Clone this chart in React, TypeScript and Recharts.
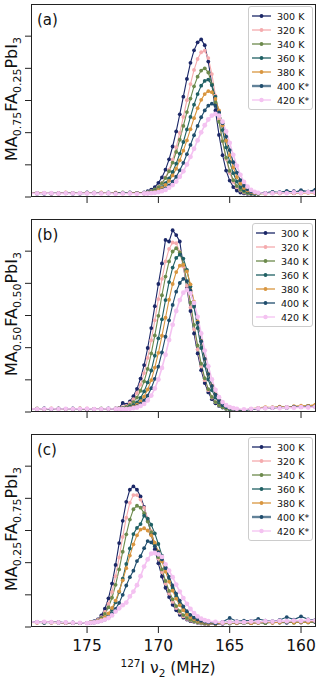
import { LineChart, Line, XAxis, YAxis, Legend } from "recharts"

// x grids (MHz) for each panel
const freqA = [179, 178.5, 178, 177.5, 177, 176.5, 176, 175.5, 175, 174.5, 174, 173.5, 173, 172.5, 172, 171.5, 171, 170.75, 170.5, 170.25, 170, 169.75, 169.5, 169.25, 169, 168.75, 168.5, 168.25, 168, 167.75, 167.5, 167.25, 167, 166.75, 166.5, 166.25, 166, 165.75, 165.5, 165.25, 165, 164.75, 164.5, 164.25, 164, 163.75, 163.5, 163.25, 163, 162.5, 162, 161.5, 161, 160.5, 160, 159.5, 159]
const freqB = [179, 178.5, 178, 177.5, 177, 176.5, 176, 175.5, 175, 174.5, 174, 173.5, 173, 172.75, 172.5, 172.25, 172, 171.75, 171.5, 171.25, 171, 170.75, 170.5, 170.25, 170, 169.75, 169.5, 169.25, 169, 168.75, 168.5, 168.25, 168, 167.75, 167.5, 167.25, 167, 166.75, 166.5, 166.25, 166, 165.75, 165.5, 165.25, 165, 164.75, 164.5, 164, 163.5, 163, 162.5, 162, 161.5, 161, 160.5, 160, 159.5, 159]
const freqC = [179, 178.5, 178, 177.5, 177, 176.5, 176, 175.5, 175, 174.75, 174.5, 174.25, 174, 173.75, 173.5, 173.25, 173, 172.75, 172.5, 172.25, 172, 171.75, 171.5, 171.25, 171, 170.75, 170.5, 170.25, 170, 169.75, 169.5, 169.25, 169, 168.75, 168.5, 168.25, 168, 167.75, 167.5, 167.25, 167, 166.75, 166.5, 166, 165.5, 165, 164.5, 164, 163.5, 163, 162.5, 162, 161.5, 161, 160.5, 160, 159.5, 159]

// (a) MA0.75FA0.25PbI3
const a300 = [1.3, 1.1, 1.2, 1.0, 1.2, 1.3, 1.1, 1.2, 1.4, 1.2, 1.3, 1.1, 1.3, 1.2, 1.4, 1.3, 1.4, 1.8, 2.3, 3.1, 4.4, 6.1, 8.5, 11.7, 15.7, 20.4, 25.7, 31.2, 36.7, 41.7, 45.6, 48.1, 49, 47.2, 42.1, 34.9, 26.9, 19.3, 13, 8.2, 5.1, 3.1, 2.0, 1.4, 1.1, 1.0, 0.9, 1.0, 1.1, 1.3, 1.2, 1.5, 1.4, 1.8, 1.5, 1.7, 2.0]
const a320 = [1.2, 1.3, 1.1, 1.2, 1.0, 1.2, 1.3, 1.1, 1.2, 1.3, 1.1, 1.2, 1.4, 1.1, 1.3, 1.2, 1.2, 1.4, 1.8, 2.3, 3.1, 4.4, 6.1, 8.5, 11.6, 15.5, 19.9, 24.9, 30.1, 35.1, 39.5, 42.9, 45, 45.5, 43.2, 38.2, 31.5, 24.2, 17.4, 11.8, 7.5, 4.7, 3, 2, 1.4, 1.1, 1.0, 1.1, 1.2, 1.0, 1.3, 1.2, 1.4, 1.1, 1.5, 1.3, 1.4]
const a340 = [1.1, 1.2, 1.3, 1.1, 1.2, 1.1, 1.3, 1.2, 1.1, 1.4, 1.2, 1.3, 1.2, 1.4, 1.3, 1.2, 1.3, 1.5, 1.8, 2.4, 3.1, 4.3, 5.9, 8, 10.7, 14, 17.8, 22.1, 26.4, 30.6, 34.4, 37.4, 39.3, 40, 38.7, 35, 29.5, 23.4, 17.4, 12.2, 8.1, 5.2, 3.4, 2.2, 1.6, 1.2, 1.0, 1.1, 0.9, 1.2, 1.1, 1.3, 1.5, 1.2, 1.4, 1.6, 1.3]
const a360 = [1.2, 1.0, 1.1, 1.3, 1.1, 1.2, 1.0, 1.3, 1.2, 1.1, 1.3, 1.4, 1.1, 1.2, 1.3, 1.1, 1.1, 1.3, 1.5, 1.8, 2.3, 3.1, 4.3, 5.8, 7.8, 10.4, 13.5, 17.1, 21, 24.9, 28.7, 32, 34.6, 36.1, 36.5, 34.8, 31.2, 26.3, 20.8, 15.4, 10.9, 7.4, 4.8, 3.1, 2.1, 1.6, 1.2, 1.0, 1.1, 1.3, 1.5, 1.2, 1.6, 1.4, 1.9, 1.5, 1.8]
const a380 = [1.3, 1.2, 1.3, 1.1, 1.2, 1.4, 1.2, 1.1, 1.3, 1.2, 1.4, 1.2, 1.3, 1.1, 1.2, 1.3, 1.1, 1.3, 1.4, 1.7, 2.2, 2.8, 3.8, 5, 6.7, 8.8, 11.4, 14.4, 17.6, 21.1, 24.5, 27.6, 30.2, 32, 32.9, 32.6, 30.5, 26.9, 22.3, 17.5, 13, 9.2, 6.2, 4.2, 2.8, 2, 1.5, 1.2, 1.1, 1.0, 1.2, 1.1, 1.3, 1.2, 1.1, 1.3, 1.2]
const a400 = [1.1, 1.2, 1.0, 1.2, 1.1, 1.3, 1.2, 1.0, 1.1, 1.3, 1.2, 1.1, 1.2, 1.3, 1.1, 1.2, 1.1, 1.1, 1.3, 1.4, 1.7, 2.1, 2.7, 3.6, 4.8, 6.3, 8.3, 10.6, 13.3, 16.2, 19.2, 22.1, 24.8, 26.9, 28.4, 29, 28.4, 26.3, 22.9, 18.8, 14.6, 10.8, 7.6, 5.2, 3.5, 2.4, 1.7, 1.4, 1.1, 1.3, 1.6, 1.4, 1.9, 1.5, 2.1, 1.7, 2.3]
const a420 = [1.2, 1.1, 1.2, 1.2, 1.1, 1.2, 1.1, 1.2, 1.1, 1.2, 1.1, 1.2, 1.0, 1.1, 1.1, 1.0, 1.1, 1.1, 1.2, 1.3, 1.5, 1.8, 2.2, 2.9, 3.7, 4.8, 6.3, 8, 10.1, 12.5, 15, 17.6, 20.1, 22.3, 24.1, 25.3, 25.8, 25.3, 23.4, 20.4, 16.8, 13.1, 9.7, 6.9, 4.7, 3.2, 2.2, 1.6, 1.3, 1.1, 1.2, 1.3, 1.2, 1.4, 1.3, 1.5, 1.4]

// (b) MA0.50FA0.50PbI3
const b300 = [1.0, 0.9, 1.1, 0.8, 1.0, 0.9, 1.1, 1.0, 0.8, 1.0, 0.9, 1.1, 1.1, 1.3, 2.8, 2.3, 3.3, 4.9, 7.2, 10.4, 14.6, 19.9, 26.1, 32.9, 39.8, 46.2, 53.5, 53, 56.5, 55, 53, 45.4, 38.6, 31.4, 24.4, 18.2, 13, 9, 6.1, 4, 2.7, 1.9, 1.4, 1.0, 0.7, 0.5, 0.5, 0.6, 0.9, 1.1, 1.3, 1.2, 1.5, 1.4, 1.6, 1.5, 1.9, 1.8]
const b320 = [0.9, 1.0, 0.8, 1.0, 1.1, 0.9, 1.0, 0.9, 1.1, 0.9, 1.0, 0.9, 1.1, 1.2, 1.5, 1.9, 2.8, 4.0, 5.9, 8.5, 12.1, 16.8, 22.3, 28.5, 35.1, 41.4, 46.8, 50.7, 52.7, 52.5, 49.8, 45.2, 39.2, 32.5, 25.7, 19.5, 14.2, 9.9, 6.8, 4.5, 3.1, 2.1, 1.6, 1.1, 0.7, 0.5, 0.5, 0.5, 0.8, 1.0, 1.2, 1.4, 1.3, 1.5, 1.4, 1.7, 1.6, 1.8]
const b340 = [1.0, 1.1, 0.9, 1.0, 0.8, 1.0, 0.9, 1.1, 1.0, 0.9, 1.1, 1.0, 1.0, 1.1, 1.3, 1.6, 2.2, 3.1, 4.5, 6.6, 9.5, 13.4, 18.2, 23.8, 29.9, 36.3, 42.1, 46.8, 49.9, 50.9, 49.6, 46, 40.6, 34, 27.1, 20.7, 15, 10.5, 7.1, 4.7, 3.1, 2.1, 1.5, 1.0, 0.7, 0.5, 0.5, 0.6, 0.9, 1.2, 1.1, 1.4, 1.6, 1.3, 1.7, 1.5, 1.8, 2.0]
const b360 = [0.9, 1.0, 1.1, 0.9, 1.0, 1.0, 0.8, 1.0, 0.9, 1.0, 0.9, 1.0, 0.9, 1.0, 1.1, 1.3, 1.6, 2.1, 3.0, 4.4, 6.4, 9.2, 12.9, 17.5, 22.9, 28.8, 34.8, 40.4, 44.9, 47.9, 48.9, 47.7, 44.2, 39, 32.7, 26.1, 19.9, 14.4, 10.1, 6.8, 4.5, 3.0, 2.1, 1.5, 1.0, 0.7, 0.5, 0.5, 0.8, 1.1, 1.3, 1.2, 1.4, 1.6, 1.5, 1.7, 1.9, 1.6]
const b380 = [1.1, 1.0, 0.9, 1.1, 1.0, 0.9, 1.0, 1.1, 0.9, 1.0, 1.0, 0.9, 0.9, 0.9, 1.0, 1.1, 1.3, 1.7, 2.3, 3.3, 4.8, 7.0, 9.9, 13.8, 18.4, 23.7, 29.3, 34.9, 39.8, 43.5, 45.5, 45.7, 43.7, 39.7, 34.3, 28.2, 22.1, 16.5, 11.8, 8.2, 5.5, 3.6, 2.5, 1.8, 1.4, 1.0, 0.7, 0.6, 1.0, 1.3, 1.5, 1.4, 1.7, 1.5, 1.8, 2.0, 1.9, 2.3]
const b400 = [0.9, 1.0, 1.0, 0.9, 1.1, 1.0, 0.9, 1.0, 1.0, 0.9, 1.0, 0.9, 0.9, 0.9, 0.9, 1.0, 1.2, 1.4, 1.8, 2.5, 3.6, 5.1, 7.4, 10.3, 14.1, 18.5, 23.4, 28.5, 33.3, 37.4, 40.1, 41.4, 40.7, 37.8, 33.3, 27.8, 22, 16.5, 11.8, 8.1, 5.4, 3.6, 2.4, 1.7, 1.3, 1.0, 0.7, 0.6, 0.9, 1.0, 1.3, 1.2, 1.4, 1.3, 1.6, 1.5, 1.7, 1.6]
const b420 = [1.0, 0.9, 1.0, 1.0, 0.9, 1.0, 0.9, 1.0, 1.0, 0.9, 0.9, 1.0, 0.9, 0.9, 0.9, 0.9, 1.0, 1.2, 1.4, 1.9, 2.5, 3.6, 5.1, 7.3, 10.1, 13.7, 17.8, 22.4, 27.1, 31.4, 34.8, 37.1, 37.9, 36.9, 33.9, 29.6, 24.4, 19.1, 14.2, 10.1, 6.9, 4.6, 3.1, 2.1, 1.5, 1.2, 1.0, 0.8, 1.0, 1.1, 1.2, 1.3, 1.2, 1.4, 1.3, 1.5, 1.4, 1.6]

// (c) MA0.25FA0.75PbI3
const c300 = [1.6, 1.5, 1.6, 1.4, 1.5, 1.3, 1.4, 1.3, 1.3, 1.5, 1.8, 2.4, 3.6, 5.7, 8.9, 13.5, 19.3, 26.1, 33, 38.9, 42.7, 43.7, 42.7, 40.6, 37.3, 33.3, 28.8, 24.2, 19.8, 15.7, 12.2, 9.3, 6.9, 5.2, 3.8, 2.9, 2.3, 1.8, 1.6, 1.3, 1.1, 1.0, 0.9, 0.9, 1.0, 1.1, 1.2, 1.3, 1.2, 1.4, 1.3, 1.5, 1.4, 1.3, 1.5, 1.4, 1.6, 1.5]
const c320 = [1.5, 1.4, 1.5, 1.6, 1.4, 1.3, 1.2, 1.3, 1.2, 1.4, 1.6, 2.2, 3.1, 4.7, 7.2, 10.9, 15.8, 21.6, 28, 34, 38.6, 41, 41, 39.6, 37.1, 33.7, 29.8, 25.5, 21.2, 17.1, 13.5, 10.4, 7.8, 5.9, 4.4, 3.3, 2.5, 2.0, 1.7, 1.4, 1.2, 1.0, 0.9, 1.0, 1.1, 1.2, 1.1, 1.3, 1.4, 1.2, 1.5, 1.3, 1.4, 1.6, 1.5, 1.4, 1.7, 1.6]
const c340 = [1.4, 1.5, 1.3, 1.5, 1.4, 1.2, 1.3, 1.2, 1.2, 1.4, 1.6, 2.0, 2.8, 4.1, 6.1, 9.1, 13.1, 17.9, 23.4, 28.8, 33.4, 36.6, 37.7, 37.1, 35.4, 32.8, 29.5, 25.7, 21.7, 17.9, 14.3, 11.2, 8.6, 6.5, 4.9, 3.7, 2.8, 2.2, 1.8, 1.5, 1.3, 1.1, 1.0, 1.0, 1.2, 1.1, 1.3, 1.2, 1.4, 1.3, 1.2, 1.5, 1.4, 1.6, 1.3, 1.5, 1.4, 1.6]
const c360 = [1.5, 1.4, 1.3, 1.4, 1.5, 1.3, 1.2, 1.3, 1.2, 1.2, 1.4, 1.6, 1.9, 2.6, 3.6, 5.3, 7.7, 10.9, 15, 19.6, 24.4, 28.9, 30.8, 32, 34.6, 33.7, 31.8, 29.1, 25.8, 22.2, 18.6, 15.2, 12.1, 9.4, 7.2, 5.4, 4.1, 3.1, 2.4, 2.0, 1.7, 1.4, 1.2, 1.1, 1.3, 1.6, 1.4, 1.5, 1.3, 1.7, 1.5, 1.4, 1.8, 1.6, 1.5, 1.7, 1.9, 1.6]
const c380 = [1.4, 1.3, 1.5, 1.3, 1.4, 1.2, 1.3, 1.2, 1.2, 1.4, 1.5, 1.8, 2.3, 3.1, 4.2, 5.9, 8.2, 11.1, 14.5, 18.3, 22.2, 25.7, 28.5, 30.3, 30.7, 30, 28.5, 26.2, 23.5, 20.4, 17.2, 14.1, 11.3, 8.8, 6.8, 5.2, 3.9, 3.0, 2.4, 1.9, 1.6, 1.4, 1.2, 1.0, 1.2, 1.4, 1.3, 1.5, 1.2, 1.4, 1.6, 1.3, 1.5, 1.7, 1.4, 1.6, 1.5, 1.8]
const c400 = [1.5, 1.6, 1.4, 1.5, 1.3, 1.4, 1.3, 1.2, 1.2, 1.3, 1.4, 1.6, 1.9, 2.3, 3.0, 4.1, 5.6, 7.5, 10, 12.9, 15.5, 17.5, 20.5, 22, 24.5, 26.7, 26.3, 25.1, 23.3, 21, 18.3, 15.6, 12.9, 10.4, 8.2, 6.4, 4.9, 3.8, 2.9, 2.3, 1.9, 1.6, 1.4, 1.1, 1.6, 2.8, 1.8, 2.0, 1.9, 2.5, 2.0, 1.8, 2.2, 3.1, 2.3, 3.3, 2.4, 2.2]
const c420 = [1.6, 1.5, 1.6, 1.5, 1.4, 1.4, 1.3, 1.3, 1.2, 1.3, 1.4, 1.6, 1.9, 2.3, 2.8, 3.6, 4.8, 5.8, 6.8, 7.6, 9.5, 11, 13, 15.8, 18.8, 21, 22.8, 23, 22.6, 21.8, 19.5, 17.5, 15.5, 13.2, 11, 9, 7.2, 5.6, 4.3, 3.3, 2.6, 2.1, 1.8, 1.6, 1.4, 1.5, 1.6, 1.5, 1.7, 1.6, 1.8, 1.7, 1.9, 1.8, 2.0, 1.9, 2.1, 2.0]

const namesStar = ["300 K", "320 K", "340 K", "360 K", "380 K", "400 K*", "420 K*"]
const namesPlain = ["300 K", "320 K", "340 K", "360 K", "380 K", "400 K", "420 K"]
const colors = ["#1b2767", "#f5abae", "#6c8a4c", "#1f6064", "#d99640", "#1f4d6d", "#f4c2f1"]
const xTicks = [160, 165, 170, 175]
const yTicks = [0, 10, 20, 30, 40, 50]

const font = "'DejaVu Sans', Verdana, sans-serif"
const ink = "#222"
const blank = () => ""

function LegendBox({ names, width }: { names: string[]; width: number }) {
  return (
    <div style={{ width, background: "rgba(255,255,255,0.85)", border: "1px solid #cccccc", borderRadius: 3, padding: "2px 0 2px 0", fontFamily: font, fontSize: 9.5, color: "#111", boxSizing: "border-box" }}>
      {names.map((n, i) => {
        const starred = n.endsWith("*") && i === 5
        return (
          <div key={n} style={{ display: "flex", alignItems: "center", height: 14 }}>
            <svg width={28} height={14} style={{ flex: "none" }}>
              <line x1={3} x2={22} y1={7} y2={7} stroke={colors[i]} strokeWidth={starred ? 2.4 : 1.3} strokeOpacity={starred ? 0.7 : 1} />
              <circle cx={12.5} cy={7} r={i === 6 ? 2.2 : 1.9} fill={colors[i]} />
            </svg>
            <span style={{ whiteSpace: "nowrap" }}>{n}</span>
          </div>
        )
      })}
    </div>
  )
}

function Panel({ top, height, xs, series, names, letter, sub1, sub2, legendTop, legendLeft, legendWidth, last }: any) {
  const data = xs.map((x: number, i: number) => {
    const row: any = { x }
    series.forEach((s: number[], k: number) => { row["s" + k] = s[i] })
    return row
  })
  const axisH = height - 4 - 193

  const yLabel = () => (
    <g>
      <text transform="rotate(-90)" x={-99} y={17} textAnchor="middle" fontFamily={font} fontSize={16} fill="#111">
        MA<tspan fontSize={11} dy={4}>{sub1}</tspan><tspan dy={-4}>FA</tspan><tspan fontSize={11} dy={4}>{sub2}</tspan><tspan dy={-4}>PbI</tspan><tspan fontSize={11} dy={4}>3</tspan>
      </text>
      <text x={37} y={25} fontFamily={font} fontSize={15} fill="#111">({letter})</text>
    </g>
  )

  const xLabel = () => (
    <text x={168} y={243} textAnchor="middle" fontFamily={font} fontSize={15.5} fill="#111">
      <tspan fontSize={10.5} dy={-6}>127</tspan><tspan dy={6}>I ν</tspan><tspan fontSize={10.5} dy={4}>2</tspan><tspan dy={-4}>{" (MHz)"}</tspan>
    </text>
  )

  return (
    <div style={{ position: "absolute", left: 0, top }}>
      <LineChart width={320} height={height} data={data} margin={{ top: 4, right: 4, bottom: 0, left: 0 }}>
        <XAxis
          dataKey="x"
          type="number"
          domain={[158.95, 178.93]}
          reversed
          allowDataOverflow
          ticks={xTicks}
          height={axisH}
          tickSize={6}
          tickMargin={7}
          axisLine={false}
          tickLine={{ stroke: ink }}
          tick={{ fontSize: 15.5, fill: "#111", fontFamily: font }}
          tickFormatter={last ? undefined : blank}
          label={last ? xLabel : undefined}
        />
        <YAxis
          type="number"
          domain={[0, 60]}
          allowDataOverflow
          ticks={yTicks}
          width={31}
          tickSize={6}
          axisLine={false}
          tickLine={{ stroke: ink }}
          tick={{ fontSize: 10 }}
          tickFormatter={blank}
          label={yLabel}
        />
        {series.map((_: number[], k: number) => (
          <Line
            key={k}
            type="linear"
            dataKey={"s" + k}
            name={names[k]}
            stroke={colors[k]}
            strokeWidth={k === 6 ? 1.6 : 1.1}
            dot={{ r: k === 6 ? 2.4 : 1.9, fill: colors[k], stroke: colors[k], strokeWidth: 0 }}
            activeDot={false}
            isAnimationActive={false}
          />
        ))}
        <Legend
          layout="horizontal"
          verticalAlign="middle"
          align="center"
          wrapperStyle={{ top: legendTop, left: legendLeft, width: legendWidth }}
          content={() => <LegendBox names={names} width={legendWidth} />}
        />
      </LineChart>
      {/* axes frame */}
      <div style={{ position: "absolute", left: 31, top: 4, width: 285, height: 193, border: `1px solid ${ink}`, boxSizing: "border-box", pointerEvents: "none" }} />
    </div>
  )
}

export default function App() {
  return (
    <div style={{ position: "absolute", left: 0, top: 0, width: 320, height: 680, background: "#fff", fontFamily: font }}>
      <Panel top={0} height={220} xs={freqA} series={[a300, a320, a340, a360, a380, a400, a420]} names={namesStar} letter="a" sub1="0.75" sub2="0.25" legendTop={6} legendLeft={248} legendWidth={65} />
      <Panel top={215} height={220} xs={freqB} series={[b300, b320, b340, b360, b380, b400, b420]} names={namesPlain} letter="b" sub1="0.50" sub2="0.50" legendTop={8} legendLeft={252} legendWidth={61} />
      <Panel top={430} height={250} xs={freqC} series={[c300, c320, c340, c360, c380, c400, c420]} names={namesStar} letter="c" sub1="0.25" sub2="0.75" legendTop={7} legendLeft={248} legendWidth={65} last />
    </div>
  )
}
